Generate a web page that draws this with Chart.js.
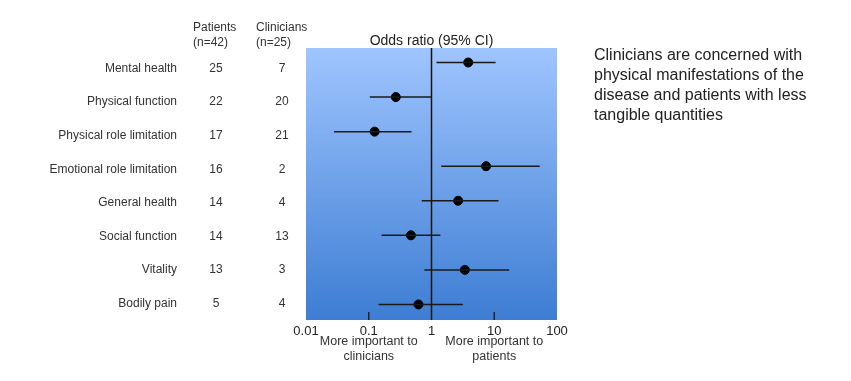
<!DOCTYPE html>
<html>
<head>
<meta charset="utf-8">
<script src="https://cdn.jsdelivr.net/npm/chart.js@4"></script>
<style>
  html, body { margin: 0; padding: 0; background: #fff; }
  #wrap { position: relative; width: 851px; height: 381px; }
</style>
</head>
<body>
<div id="wrap"><canvas id="myChart" width="851" height="381"></canvas></div>
<script>
// dados
var categorias = ["Mental health", "Physical function", "Physical role limitation", "Emotional role limitation",
  "General health", "Social function", "Vitality", "Bodily pain"];
var pacientes = [25, 22, 17, 16, 14, 14, 13, 5];
var clinicos = [7, 20, 21, 2, 4, 13, 3, 4];
var oddsRatio = [3.85, 0.27, 0.124, 7.4, 2.66, 0.47, 3.4, 0.62];
var icInferior = [1.2, 0.104, 0.028, 1.43, 0.70, 0.16, 0.77, 0.143];
var icSuperior = [10.5, 1.0, 0.48, 53, 11.7, 1.39, 17.3, 3.16];
var ticksX = [0.01, 0.1, 1, 10, 100];
var marcasX = [0.1, 10];
var textoLado = ["Clinicians are concerned with", "physical manifestations of the",
  "disease and patients with less", "tangible quantities"];

var fonte = "'Liberation Sans', Arial, sans-serif";
var corTexto = "#333";

var datasets = [];
// linhas dos intervalos de confianca
categorias.forEach(function (c, i) {
  datasets.push({
    type: 'scatter',
    data: [{ x: icInferior[i], y: i }, { x: icSuperior[i], y: i }],
    showLine: true,
    borderColor: '#1a1a1a',
    borderWidth: 1.5,
    pointRadius: 0
  });
});
// linha vertical em 1
datasets.push({
  type: 'scatter',
  data: [{ x: 1, y: -0.42 }, { x: 1, y: 7.45 }],
  showLine: true,
  borderColor: '#111',
  borderWidth: 1.5,
  pointRadius: 0
});
// pontos
datasets.push({
  type: 'scatter',
  data: oddsRatio.map(function (v, i) { return { x: v, y: i }; }),
  backgroundColor: '#000',
  borderColor: '#000',
  pointRadius: 4.5
});

var fundo = {
  id: 'fundo',
  beforeDatasetsDraw: function (chart) {
    var a = chart.chartArea, ctx = chart.ctx;
    var g = ctx.createLinearGradient(0, a.top, 0, a.bottom);
    g.addColorStop(0, '#9fc5fe');
    g.addColorStop(1, '#3d7dd3');
    ctx.save();
    ctx.fillStyle = g;
    ctx.fillRect(a.left, a.top, a.right - a.left, a.bottom - a.top);
    // marcas em 0.1 e 10
    ctx.strokeStyle = '#222';
    ctx.lineWidth = 1.5;
    marcasX.forEach(function (m) {
      var px = chart.scales.x.getPixelForValue(m);
      ctx.beginPath();
      ctx.moveTo(px, a.bottom - 8);
      ctx.lineTo(px, a.bottom);
      ctx.stroke();
    });
    ctx.restore();
  }
};

var textos = {
  id: 'textos',
  afterDraw: function (chart) {
    var ctx = chart.ctx, ys = chart.scales.y, xs = chart.scales.x, a = chart.chartArea;
    ctx.save();
    ctx.fillStyle = corTexto;
    ctx.textBaseline = 'middle';
    ctx.font = '12px ' + fonte;
    categorias.forEach(function (c, i) {
      var y = ys.getPixelForValue(i) + 6 - i;
      ctx.textAlign = 'right';
      ctx.fillText(c, 177, y);
      ctx.textAlign = 'center';
      ctx.fillText(String(pacientes[i]), 216, y);
      ctx.fillText(String(clinicos[i]), 282, y);
    });
    // cabecalhos
    ctx.textAlign = 'left';
    ctx.fillText('Patients', 193, 28);
    ctx.fillText('(n=42)', 193, 43);
    ctx.fillText('Clinicians', 256, 28);
    ctx.fillText('(n=25)', 256, 43);
    ctx.textAlign = 'center';
    ctx.font = '14px ' + fonte;
    ctx.fillStyle = '#222';
    ctx.fillText('Odds ratio (95% CI)', (a.left + a.right) / 2, 41);
    // rotulos do eixo
    ctx.fillStyle = corTexto;
    ctx.font = '12.5px ' + fonte;
    var p1 = xs.getPixelForValue(marcasX[0]), p2 = xs.getPixelForValue(marcasX[1]);
    ctx.fillText('More important to', p1, 342);
    ctx.fillText('clinicians', p1, 357);
    ctx.fillText('More important to', p2, 342);
    ctx.fillText('patients', p2, 357);
    // texto lateral
    ctx.textAlign = 'left';
    ctx.font = '16px ' + fonte;
    ctx.fillStyle = '#222';
    textoLado.forEach(function (t, i) {
      ctx.fillText(t, 594, 56 + i * 19.7);
    });
    ctx.restore();
  }
};

new Chart(document.getElementById('myChart'), {
  type: 'scatter',
  data: { datasets: datasets },
  options: {
    responsive: false,
    animation: false,
    layout: { padding: { left: 306, right: 294, top: 48, bottom: 41 } },
    plugins: { legend: { display: false }, tooltip: { enabled: false } },
    scales: {
      x: {
        type: 'logarithmic',
        min: 0.01,
        max: 100,
        afterBuildTicks: function (s) { s.ticks = ticksX.map(function (v) { return { value: v }; }); },
        afterFit: function (s) { s.height = 20; },
        grid: { display: false, drawTicks: false },
        border: { display: false },
        ticks: {
          padding: 4,
          color: '#222',
          font: { family: fonte, size: 13 },
          maxRotation: 0,
          autoSkip: false,
          callback: function (v) { return String(v); }
        }
      },
      y: {
        type: 'linear',
        reverse: true,
        min: -0.42,
        max: 7.45,
        display: false
      }
    }
  },
  plugins: [fundo, textos]
});
</script>
</body>
</html>
